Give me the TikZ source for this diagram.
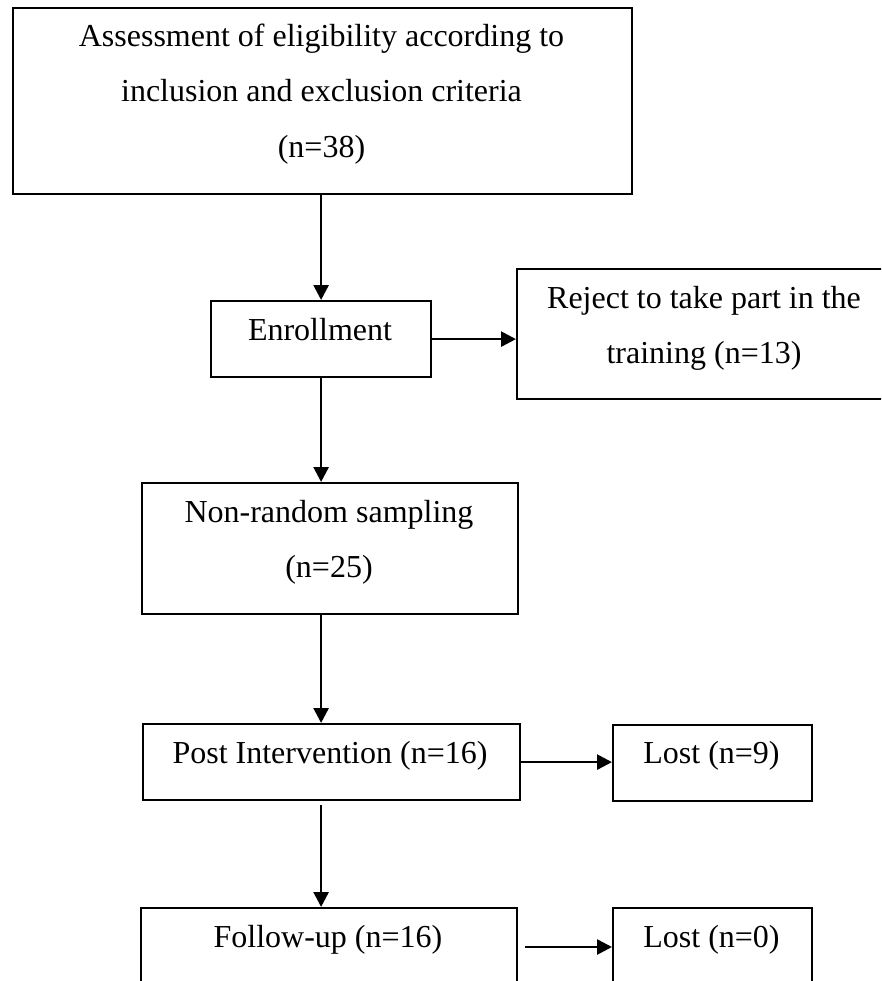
\documentclass[tikz,border=0pt]{standalone}
\usepackage{fontspec}
\setmainfont{Liberation Serif}
\usetikzlibrary{arrows.meta,calc}
\tikzset{
  box/.style={draw=black, line width=2.2pt, inner sep=0pt, anchor=north west},
  lbl/.style={anchor=base, inner sep=0pt, font=\fontsize{32}{38}\selectfont},
  arr/.style={line width=2.6pt, -{Triangle[length=15pt,width=15pt]}}
}
\begin{document}
\begin{tikzpicture}[x=1pt,y=-1pt]
\useasboundingbox (0,0) rectangle (881,981);
\clip (0,0) rectangle (881,981);
\fill[white] (0,0) rectangle (881,981);
% boxes
\node[box, minimum width=619pt, minimum height=186pt] (A) at (12,7) {};
\node[box, minimum width=220pt, minimum height=76pt] (E) at (210,300) {};
\node[box, minimum width=384pt, minimum height=130pt] (R) at (516,268) {};
\node[box, minimum width=376pt, minimum height=131pt] (N) at (141,482) {};
\node[box, minimum width=377pt, minimum height=76pt] (P) at (142,723) {};
\node[box, minimum width=199pt, minimum height=76pt] (L1) at (612,724) {};
\node[box, minimum width=376pt, minimum height=100pt] (F) at (140,907) {};
\node[box, minimum width=199pt, minimum height=100pt] (L2) at (612,907) {};
% texts
\node[lbl] (a1) at (321.5,47) {Assessment of eligibility according to};
\node[lbl] (a2) at (321.5,102) {inclusion and exclusion criteria};
\node[lbl] (a3) at (321.5,158) {(n=38)};
\node[lbl] (e1) at (320,340) {Enrollment};
\node[lbl] (r1) at (704,308) {Reject to take part in the};
\node[lbl] (r2) at (704,363) {training (n=13)};
\node[lbl] (n1) at (329,522) {Non-random sampling};
\node[lbl] (n2) at (329,577) {(n=25)};
\node[lbl] (p1) at (330,763) {Post Intervention (n=16)};
\node[lbl] (l1) at (711.5,763) {Lost (n=9)};
\node[lbl] (f1) at (328,947) {Follow-up (n=16)};
\node[lbl] (l2) at (711.5,947) {Lost (n=0)};
% connectors
\draw[arr] (A.south -| E.north) -- (E.north);
\draw[arr] (E.east) -- (E.east -| R.west);
\draw[arr] (E.south) -- (N.north -| E.south);
\draw[arr] (N.south -| E.south) -- (P.north -| E.south);
\draw[arr] (P.east) -- (P.east -| L1.west);
\draw[arr, shorten <=4pt] (P.south -| E.south) -- (F.north -| E.south);
\coordinate (fa) at ($(F.north east)+(7,40)$);
\draw[arr] (fa) -- (fa -| L2.west);
\end{tikzpicture}
\end{document}
